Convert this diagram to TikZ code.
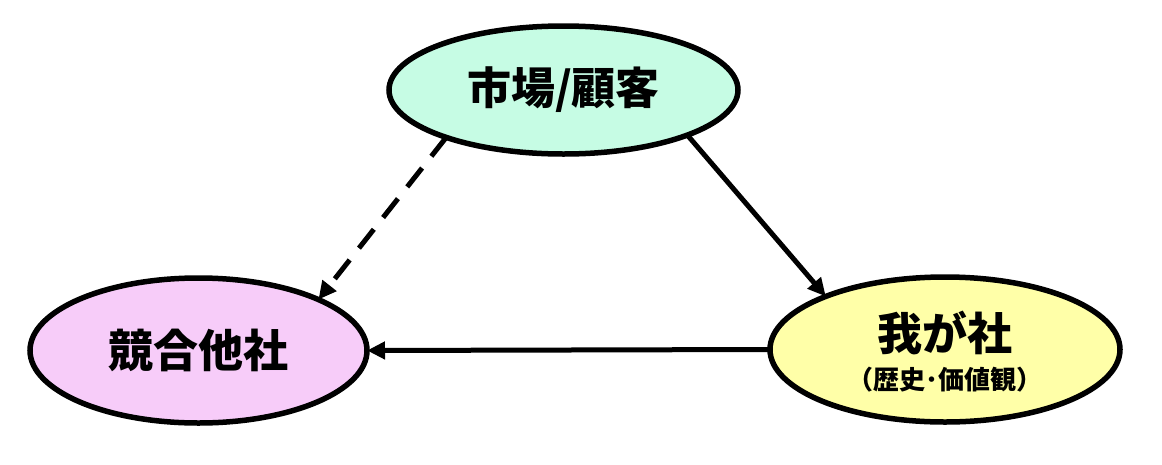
\documentclass[tikz,border=0pt]{standalone}
\usepackage{fontspec}
\newfontfamily\cjk{Noto Sans CJK JP}
\usetikzlibrary{arrows.meta,shapes.geometric}
\definecolor{mint}{RGB}{198,252,228}
\definecolor{pinkfill}{RGB}{247,204,249}
\definecolor{yellowfill}{RGB}{255,255,168}
\tikzset{
  oval/.style={ellipse, draw=black, line width=5.5pt, inner sep=0pt, outer sep=0pt, font=\cjk\bfseries},
  arr/.style={line width=5pt, -{Triangle[length=18pt,width=17pt]}},
  dasharr/.style={arr, dash pattern=on 24pt off 15pt},
}
\begin{document}
\begin{tikzpicture}[x=1pt,y=-1pt]
\useasboundingbox (0,0) rectangle (1162,464);
\node[oval, fill=mint, minimum width=349pt, minimum height=128pt] (market) at (563.5,90)
  {\fontsize{44}{50}\selectfont 市場/顧客};
\node[oval, fill=pinkfill, minimum width=337pt, minimum height=145pt] (rival) at (198.5,350.5)
  {\fontsize{45}{50}\selectfont 競合他社};
\node[oval, fill=yellowfill, minimum width=350pt, minimum height=145pt] (us) at (945,349.5) {};
\node[font=\cjk\bfseries, anchor=center] (usname) at (945,333) {\fontsize{45}{50}\selectfont 我が社};
\node[font=\cjk\bfseries, anchor=center] (ushist) at (945,380) {\fontsize{26}{30}\selectfont （歴史･価値観）};
\draw[dasharr] (market.-158.7) -- (rival.23.1);
\draw[arr] (market.-20.8) -- (us.156.3);
\draw[arr] (us.west) -- (rival.east);
\end{tikzpicture}
\end{document}
